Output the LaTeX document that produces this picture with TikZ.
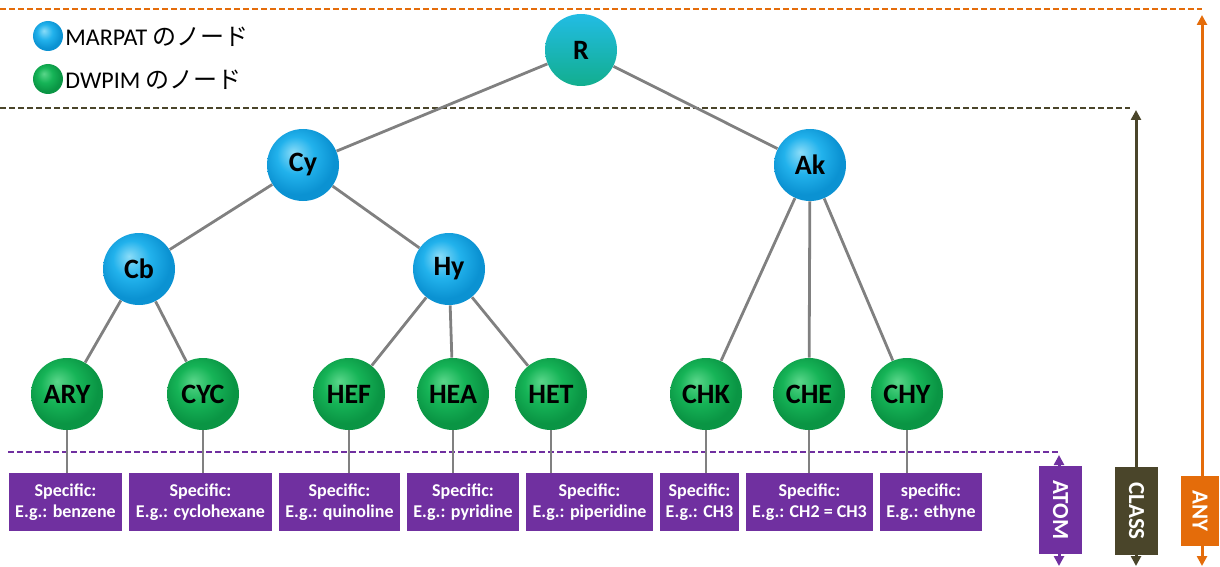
\documentclass[tikz,border=0pt]{standalone}
\usepackage{fontspec}
\setmainfont{Carlito}
\newfontfamily\jpfont{Noto Sans CJK JP}
\usetikzlibrary{arrows.meta, shapes, positioning}

\definecolor{blueHi}{HTML}{8ADCF8}
\definecolor{blueMid}{HTML}{22B2EC}
\definecolor{blueEdge}{HTML}{0B92D2}
\definecolor{greenHi}{HTML}{5AD68A}
\definecolor{greenMid}{HTML}{16B457}
\definecolor{greenEdge}{HTML}{0A9544}
\definecolor{rootTop}{HTML}{22BCE4}
\definecolor{rootBottom}{HTML}{12AE8E}
\definecolor{linkgray}{HTML}{808080}
\definecolor{specpurple}{HTML}{7030A0}
\definecolor{classolive}{HTML}{4A452A}
\definecolor{anyorange}{HTML}{E46C0A}

\pgfdeclareradialshading{marpatball}{\pgfpoint{-7bp}{9bp}}{color(0bp)=(blueHi); color(13bp)=(blueMid); color(25bp)=(blueEdge); color(50bp)=(blueEdge)}
\pgfdeclareradialshading{dwpimball}{\pgfpoint{-7bp}{9bp}}{color(0bp)=(greenHi); color(13bp)=(greenMid); color(25bp)=(greenEdge); color(50bp)=(greenEdge)}

\tikzset{
  marpat/.style={circle, inner sep=0pt, minimum size=36pt, shade, shading=marpatball,
    font=\fontsize{14}{16}\selectfont\bfseries},
  dwpim/.style={circle, inner sep=0pt, minimum size=36pt, shade, shading=dwpimball,
    font=\fontsize{14}{16}\selectfont\bfseries},
  link/.style={draw=linkgray, line width=1.4pt},
  spec/.style={fill=specpurple, text=white, align=center, inner sep=0pt,
    minimum height=29pt, font=\fontsize{9}{10.5}\selectfont\bfseries},
  levelbox/.style={text=white, rotate=-90, inner sep=0pt,
    minimum height=21.5pt, font=\fontsize{11.5}{13}\selectfont\bfseries},
  levelarrow/.style={{Triangle[length=5pt,width=5pt]}-{Triangle[length=5pt,width=5pt]}, line width=1.5pt},
  levelline/.style={dash pattern=on 3pt off 1.5pt, line width=0.75pt},
  legend/.style={anchor=west, inner sep=0pt, font=\fontsize{12}{14}\selectfont}
}

\begin{document}
\begin{tikzpicture}[x=0.5pt, y=-0.5pt]
        \useasboundingbox (0,0) rectangle (1220,567);

        % level lines
        \coordinate (anyL) at (0,9);
        \coordinate (anyR) at (1202,9);
        \coordinate (classL) at (0,108);
        \coordinate (classR) at (1130,108);
        \coordinate (atomL) at (8,452);
        \coordinate (atomR) at (1058,452);
        \draw[levelline, anyorange] (anyL) -- (anyR);
        \draw[levelline, classolive] (classL) -- (classR);
        \draw[levelline, specpurple] (atomL) -- (atomR);

        \coordinate (anyTop) at (1202,15);
        \coordinate (anyBot) at (1202,566);
        \coordinate (classTop) at (1136,110);
        \coordinate (classBot) at (1136,566);
        \coordinate (atomTop) at (1059,455);
        \coordinate (atomBot) at (1059,566);
        \draw[levelarrow, anyorange] (anyTop) -- (anyBot);
        \draw[levelarrow, classolive] (classTop) -- (classBot);
        \draw[levelarrow, specpurple] (atomTop) -- (atomBot);

        \node[levelbox, fill=specpurple, minimum width=44pt] (atom) at (1060.5,510) {ATOM};
        \node[levelbox, fill=classolive, minimum width=44pt] (class) at (1136.5,511) {CLASS};
        \node[levelbox, fill=anyorange, minimum width=35pt, minimum height=19pt] (any) at (1200,511) {ANY};

        % legend
        \node[marpat, minimum size=15pt] (keyM) at (48,36) {};
        \node[dwpim, minimum size=15pt] (keyD) at (48,79) {};
        \node[legend] (keyMtext) at (65,37) {MARPAT {\jpfont のノード}};
        \node[legend] (keyDtext) at (65,80) {DWPIM {\jpfont のノード}};

        % tree
        \node[marpat, shading=axis, top color=rootTop, bottom color=rootBottom] (R) at (581,50) {R};
        \node[marpat] (Cy) at (303,165) {Cy};
        \node[marpat] (Ak) at (810,165) {Ak};
        \node[marpat] (Cb) at (139,269) {Cb};
        \node[marpat] (Hy) at (449,269) {Hy};

        \node[dwpim] (ARY) at (67,394) {ARY};
        \node[dwpim] (CYC) at (203,394) {CYC};
        \node[dwpim] (HEF) at (349,394) {HEF};
        \node[dwpim] (HEA) at (453,394) {HEA};
        \node[dwpim] (HET) at (551,394) {HET};
        \node[dwpim] (CHK) at (706,394) {CHK};
        \node[dwpim] (CHE) at (809,394) {CHE};
        \node[dwpim] (CHY) at (907,394) {CHY};

          \path[link] (R) edge (Cy)
                          edge (Ak)
                     (Cy) edge (Cb)
                          edge (Hy)
                     (Cb) edge (ARY)
                          edge (CYC)
                     (Hy) edge (HEF)
                          edge (HEA)
                          edge (HET)
                     (Ak) edge (CHK)
                          edge (CHE)
                          edge (CHY);

        % specific examples
        \node[spec, minimum width=56.5pt] (exARY) at (65.5,502) {Specific:\\E.g.: benzene};
        \node[spec, minimum width=71.5pt] (exCYC) at (200.5,502) {Specific:\\E.g.: cyclohexane};
        \node[spec, minimum width=60.5pt] (exHEF) at (339.5,502) {Specific:\\E.g.: quinoline};
        \node[spec, minimum width=56pt] (exHEA) at (463,502) {Specific:\\E.g.: pyridine};
        \node[spec, minimum width=63.5pt] (exHET) at (589.5,502) {Specific:\\E.g.: piperidine};
        \node[spec, minimum width=39.5pt] (exCHK) at (699.5,502) {Specific:\\E.g.: CH3};
        \node[spec, minimum width=63.5pt] (exCHE) at (809.5,502) {Specific:\\E.g.: CH2 = CH3};
        \node[spec, minimum width=51pt] (exCHY) at (931,502) {specific:\\E.g.: ethyne};

        \foreach \n in {ARY, CYC, HEF, HEA, HET, CHK, CHE, CHY}
          \draw[link] (\n) -- (\n |- ex\n.north);
    \end{tikzpicture}
\end{document}
